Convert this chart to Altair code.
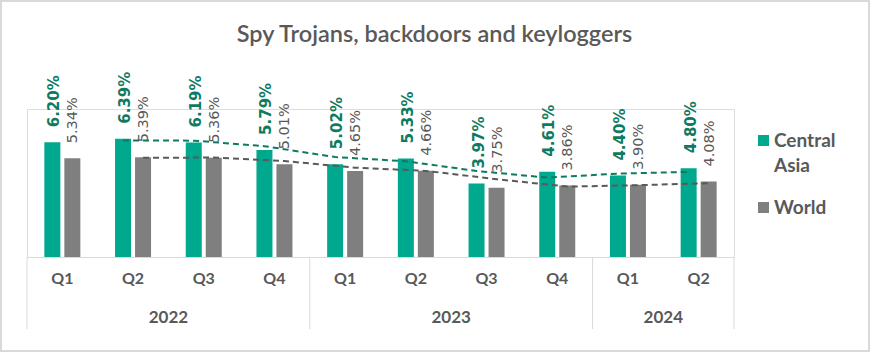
import altair as alt
import pandas as pd

quarters = ["Q1", "Q2", "Q3", "Q4", "Q1", "Q2", "Q3", "Q4", "Q1", "Q2"]
years = ["2022", "2022", "2022", "2022", "2023", "2023", "2023", "2023", "2024", "2024"]
central_asia = [6.20, 6.39, 6.19, 5.79, 5.02, 5.33, 3.97, 4.61, 4.40, 4.80]
world = [5.34, 5.39, 5.36, 5.01, 4.65, 4.66, 3.75, 3.86, 3.90, 4.08]
series = ["Central Asia", "World"]
year_labels = ["2022", "2023", "2024"]
year_anchor = ["2022 Q2", "2023 Q2", "2024 Q1"]
group_starts = ["2022 Q1", "2023 Q1", "2024 Q1"]

GREEN = "#00A88E"
GREEN_DARK = "#0E7A62"
GRAY = "#7F7F7F"
TEXT = "#595959"
LINE = "#D9D9D9"

periods = [f"{y} {q}" for y, q in zip(years, quarters)]
wide = pd.DataFrame({"period": periods, "idx": list(range(len(periods))),
                     "ca": central_asia, "world": world})
long = pd.DataFrame({
    "period": periods * 2,
    "series": [series[0]] * len(periods) + [series[1]] * len(periods),
    "value": central_asia + world,
})
years_df = pd.DataFrame({"period": year_anchor, "year": year_labels})
seps_df = pd.DataFrame({"period": group_starts})
end_df = pd.DataFrame({"period": [periods[-1]]})
frame_df = pd.DataFrame({"k": [0]})

W, H = 707, 148
YMAX = 8

xenc = alt.X("period:N", sort=periods, title=None,
             scale=alt.Scale(paddingInner=0, paddingOuter=0),
             axis=alt.Axis(labelExpr="split(datum.label, ' ')[1]", labelAngle=0,
                           domainColor=LINE, domainWidth=1, ticks=False,
                           labelFont="Lato", labelFontSize=16, labelFontWeight="bold",
                           labelColor=TEXT, labelPadding=13))
yscale = alt.Scale(domain=[0, YMAX])

bars = alt.Chart(long).mark_bar().encode(
    x=xenc,
    xOffset=alt.XOffset("series:N", sort=series,
                        scale=alt.Scale(paddingInner=0.2, paddingOuter=0.8675)),
    y=alt.Y("value:Q", scale=yscale, axis=None),
    color=alt.Color("series:N", sort=series,
                    scale=alt.Scale(domain=series, range=[GREEN, GRAY]),
                    legend=alt.Legend(title=None, orient="none", legendX=727, legendY=22,
                                      symbolType="square", symbolSize=121,
                                      symbolStrokeWidth=0,
                                      labelFont="Lato", labelFontSize=19,
                                      labelFontWeight="bold", labelColor=TEXT,
                                      labelExpr="datum.label == 'Central Asia' ? ['Central', 'Asia'] : datum.label",
                                      labelLimit=200, rowPadding=22, padding=0,
                                      labelOffset=1)),
)

lbl_ca = alt.Chart(wide).transform_calculate(
    lab="format(datum.ca, '.2f') + '%'"
).mark_text(
    angle=270, align="left", baseline="middle", dx=15, dy=2, xOffset=-10,
    font="DejaVu Sans", fontSize=15, fontWeight="bold", color=GREEN_DARK,
).encode(x=alt.X("period:N", sort=periods), y=alt.Y("ca:Q", scale=yscale), text="lab:N")

lbl_w = alt.Chart(wide).transform_calculate(
    lab="format(datum.world, '.2f') + '%'"
).mark_text(
    angle=270, align="left", baseline="middle", dx=15, dy=1, xOffset=10,
    font="DejaVu Sans", fontSize=14.5, color=TEXT,
).encode(x=alt.X("period:N", sort=periods), y=alt.Y("world:Q", scale=yscale), text="lab:N")

trend_ca = alt.Chart(wide).transform_window(
    ma="mean(ca)", frame=[-1, 0], sort=[alt.SortField("idx")]
).transform_filter("datum.idx >= 1").mark_line(
    xOffset=-10, color=GREEN_DARK, strokeWidth=2, strokeDash=[6, 4]
).encode(x=alt.X("period:N", sort=periods), y=alt.Y("ma:Q", scale=yscale))

trend_w = alt.Chart(wide).transform_window(
    ma="mean(world)", frame=[-1, 0], sort=[alt.SortField("idx")]
).transform_filter("datum.idx >= 1").mark_line(
    xOffset=10, color=TEXT, strokeWidth=2, strokeDash=[6, 4]
).encode(x=alt.X("period:N", sort=periods), y=alt.Y("ma:Q", scale=yscale))

seps = alt.Chart(seps_df).mark_rule(color=LINE, strokeWidth=1).encode(
    x=alt.X("period:N", sort=periods, bandPosition=0),
    y=alt.value(H), y2=alt.value(H + 72))
seps_end = alt.Chart(end_df).mark_rule(color=LINE, strokeWidth=1).encode(
    x=alt.X("period:N", sort=periods, bandPosition=1),
    y=alt.value(H), y2=alt.value(H + 72))

year_text = alt.Chart(years_df).mark_text(
    font="Lato", fontSize=17, fontWeight="bold", color=TEXT, baseline="middle"
).encode(x=alt.X("period:N", sort=periods, bandPosition=1),
         y=alt.value(H + 61), text="year:N")

frame = alt.Chart(frame_df).mark_rect(
    fillOpacity=0, stroke=LINE, strokeWidth=2
).encode(x=alt.value(-26), x2=alt.value(842), y=alt.value(-108), y2=alt.value(242))

chart = alt.layer(
    frame, bars, trend_ca, trend_w, lbl_ca, lbl_w, seps, seps_end, year_text
).properties(
    width=W, height=H,
    padding={"left": 27, "top": 109, "right": 136, "bottom": 95},
    autosize=alt.AutoSizeParams(type="none"),
    title=alt.TitleParams(
        "Spy Trojans, backdoors and keyloggers", font="Lato", fontSize=23.5,
        fontWeight=600, color=TEXT, anchor="middle", frame="group",
        dx=54, offset=-46),
).configure_view(stroke=None).configure(
    background="white", style={"guide-label": {"lineHeight": 25}}
)

chart.save("out.html", embed_options={"renderer": "svg", "actions": False})
